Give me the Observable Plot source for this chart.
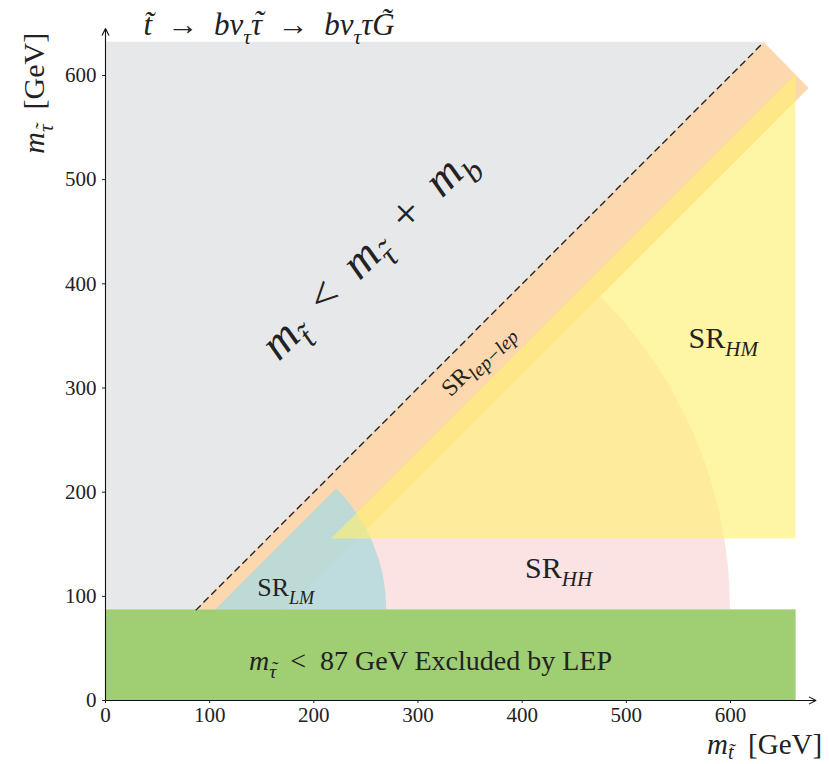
<!DOCTYPE html>
<html>
<head>
<meta charset="utf-8">
<script src="https://cdn.jsdelivr.net/npm/d3@7"></script>
<script src="https://cdn.jsdelivr.net/npm/@observablehq/plot@0.6"></script>
<style>
  html, body { margin: 0; padding: 0; background: #fff; }
  svg text { font-family: "Liberation Serif", serif; }
</style>
</head>
<body>
<div id="chart"></div>
<script>
// ---- data (GeV) ----
const xTicks = [0, 100, 200, 300, 400, 500, 600];
const yTicks = [0, 100, 200, 300, 400, 500, 600];

// kinematic limit m_stop = m_stau + m_b
const kinematicLine = [{mStop: 87, mStau: 87}, {mStop: 632, mStau: 632}];
// forbidden region (above the limit)
const forbiddenRegion = [{mStau: 87, left: 0, right: 87}, {mStau: 632, left: 0, right: 632}];
// SR lep-lep band
const lepLepBand = [
  {mStau: 87, left: 87, right: 175},
  {mStau: 587.5, left: 587.5, right: 675.5},
  {mStau: 632, left: 632, right: 632}
];
// SR HM triangle
const hmRegion = [{mStau: 155, left: 217, right: 663}, {mStau: 601, left: 663, right: 663}];
// LEP exclusion
const lepExclusion = [{x1: 0, x2: 663, y1: 0, y2: 87}];
// circular sectors (centre, radius, angular range in degrees)
const sectorHH = {cx: 175, cy: 87, r: 425, a0: 0, a1: 45};
const sectorLM = {cx: 106, cy: 87, r: 164, a0: 0, a1: 45};
// axis arrows
const axisArrows = [{x1: 0, y1: 0, x2: 682, y2: 0}, {x1: 0, y1: 0, x2: 0, y2: 645}];

// labels (anchor points in GeV)
const titleLabel = [{key: "title", x: 157, y: 648}];
const yAxisLabel = [{key: "ylab", x: -68, y: 583}];
const xAxisLabel = [{key: "xlab", x: 688, y: -42}];
const diagLabel = [{key: "diag", x: 251.5, y: 430}];
const lepLepLabel = [{key: "lepl", x: 357, y: 327}];
const bigSRLabels = [{key: "HM", x: 593, y: 348}, {key: "HH", x: 435, y: 127}];
const lmLabel = [{key: "LM", x: 173, y: 108}];
const lepLabel = [{key: "LEP", x: 312, y: 38}];

// rich text: [text, style] ; i = italic, s = subscript, t = tilde accent, b = big subscript
const rich = {
  title: [["t\u0303", "i"], ["  \u2192  ", ""], ["b\u03bd", "i"], ["\u03c4", "is"], ["\u03c4", "it"], ["  \u2192  ", ""], ["b\u03bd", "i"], ["\u03c4", "is"], ["\u03c4G\u0303", "i"]],
  ylab: [["m", "i"], ["\u03c4", "ist"], ["  [GeV]", ""]],
  xlab: [["m", "i"], ["t\u0303", "is"], ["  [GeV]", ""]],
  diag: [["m", "i"], ["t\u0303", "is"], ["  <  ", ""], ["m", "i"], ["\u03c4", "ist"], ["  +  ", ""], ["m", "i"], ["b", "is"]],
  lepl: [["SR", ""], ["lep\u2212lep", "isb"]],
  HM: [["SR", ""], ["HM", "is"]],
  HH: [["SR", ""], ["HH", "is"]],
  LM: [["SR", ""], ["LM", "is"]],
  LEP: [["m", "i"], ["\u03c4", "ist"], ["  <  87 GeV Excluded by LEP", ""]]
};
const subShift = {xlab: 0.2};

const serif = "Liberation Serif";

function sectorMark(s, fill, opacity) {
  return (index, scales) => {
    const g = d3.create("svg:g");
    const cx = scales.x(s.cx), cy = scales.y(s.cy);
    const r = scales.x(s.r) - scales.x(0);
    const arc = d3.arc()({
      innerRadius: 0, outerRadius: r,
      startAngle: (90 - s.a1) * Math.PI / 180,
      endAngle: (90 - s.a0) * Math.PI / 180
    });
    g.append("path")
      .attr("transform", `translate(${cx},${cy})`)
      .attr("d", arc)
      .attr("fill", fill)
      .attr("fill-opacity", opacity);
    return g.node();
  };
}

const txt = (data, opts) => Plot.text(data, {x: "x", y: "y", text: "key", fill: "#222", fontFamily: serif, ...opts});

const chart = Plot.plot({
  width: 829,
  height: 764,
  marginLeft: 105,
  marginRight: 99,
  marginTop: 75,
  marginBottom: 64,
  x: {domain: [0, 600]},
  y: {domain: [0, 600]},
  style: {fontFamily: serif, background: "#fff", color: "#222", overflow: "visible"},
  marks: [
    Plot.areaX(forbiddenRegion, {y: "mStau", x1: "left", x2: "right", fill: "#e7e8ea"}),
    Plot.areaX(lepLepBand, {y: "mStau", x1: "left", x2: "right", fill: "#fdd7ae"}),
    sectorMark(sectorHH, "#fbe3e4", 1),
    sectorMark(sectorLM, "#b3dbdd", 0.85),
    Plot.areaX(hmRegion, {y: "mStau", x1: "left", x2: "right", fill: "#fff06e", fillOpacity: 0.62}),
    Plot.rect(lepExclusion, {x1: "x1", x2: "x2", y1: "y1", y2: "y2", fill: "#9fce73"}),
    Plot.line(kinematicLine, {x: "mStop", y: "mStau", stroke: "#222", strokeWidth: 1.4, strokeDasharray: "6,5"}),
    Plot.arrow(axisArrows, {x1: "x1", y1: "y1", x2: "x2", y2: "y2", stroke: "#111", strokeWidth: 1.1, headLength: 10, headAngle: 55}),
    Plot.axisX(xTicks, {tickSize: 3, tickPadding: 4, fontSize: 21, label: null, fontFamily: serif}),
    Plot.axisY(yTicks, {tickSize: 3, tickPadding: 6, fontSize: 21, label: null, fontFamily: serif}),
    txt(titleLabel, {fontSize: 31}),
    txt(yAxisLabel, {fontSize: 30, rotate: -90}),
    txt(xAxisLabel, {fontSize: 29, textAnchor: "end"}),
    txt(diagLabel, {fontSize: 46, rotate: -45}),
    txt(lepLepLabel, {fontSize: 24, rotate: -45}),
    txt(bigSRLabels, {fontSize: 30}),
    txt(lmLabel, {fontSize: 26}),
    txt(lepLabel, {fontSize: 28})
  ]
});

document.getElementById("chart").appendChild(chart);

// build subscript / accent tspans
const NS = "http://www.w3.org/2000/svg";
chart.querySelectorAll("text").forEach(el => {
  const key = el.textContent;
  const parts = rich[key];
  if (!parts) return;
  const base = parseFloat(getComputedStyle(el).fontSize) || 20;
  const sh = subShift[key] ?? 0.28;
  while (el.firstChild) el.removeChild(el.firstChild);
  let shift = 0;
  let pendDx = 0, pendDy = 0;
  for (const [s, st] of parts) {
    const t = document.createElementNS(NS, "tspan");
    t.style.whiteSpace = "pre";
    const sub = st.includes("s");
    const italic = st.includes("i");
    const scale = st.includes("b") ? 0.82 : 0.7;
    if (italic) t.setAttribute("font-style", "italic");
    const target = sub ? sh * base : 0;
    const dy0 = target - shift + pendDy;
    shift = target;
    const dx0 = pendDx;
    pendDx = 0; pendDy = 0;
    const size = sub ? scale * base : base;
    if (sub) t.setAttribute("font-size", size.toFixed(1));
    if (st.includes("t")) {
      // letter plus tilde accent inside one tspan, placed with per-character dx/dy
      t.textContent = s + "\u02dc";
      el.appendChild(t);
      const lw = t.getSubStringLength(0, 1);
      const tw = t.getSubStringLength(1, 1);
      const adx = -(lw + tw) / 2 + 0.06 * size;
      const ady = -0.12 * size;
      t.setAttribute("dx", `${dx0.toFixed(2)} ${adx.toFixed(2)}`);
      t.setAttribute("dy", `${dy0.toFixed(2)} ${ady.toFixed(2)}`);
      pendDx = -(adx + tw);
      pendDy = -ady;
    } else {
      t.textContent = s;
      if (dx0) t.setAttribute("dx", dx0.toFixed(2));
      if (dy0) t.setAttribute("dy", dy0.toFixed(2));
      el.appendChild(t);
    }
  }
  el.style.whiteSpace = "pre";
});
</script>
</body>
</html>
